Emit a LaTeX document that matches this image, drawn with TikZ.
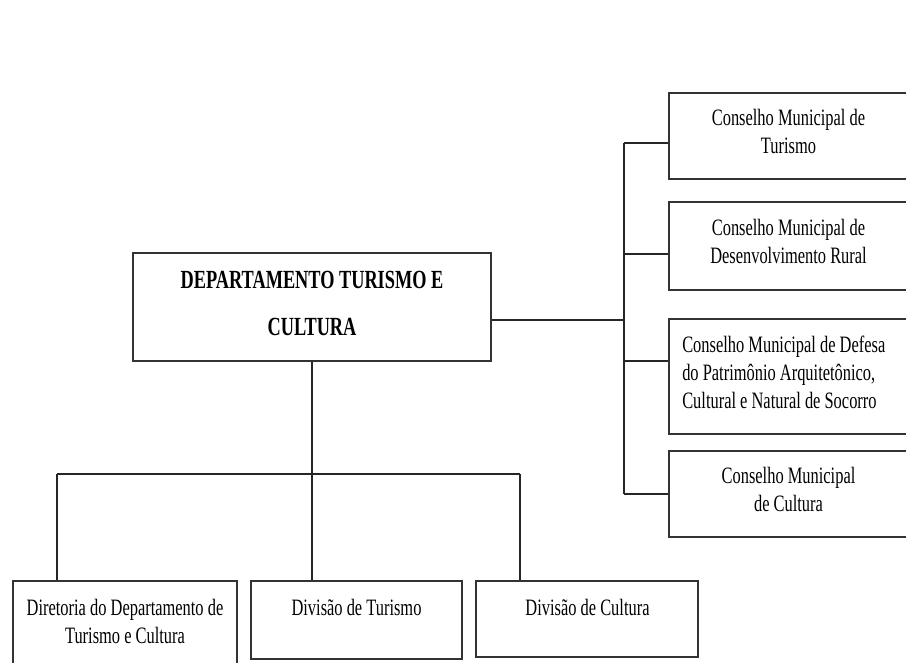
\documentclass[tikz,border=0pt]{standalone}
\usepackage{fontspec}
\newfontfamily\orgfont{Liberation Serif}[FakeStretch=0.70]
\usetikzlibrary{fit,calc}

\begin{document}
\begin{tikzpicture}[x=0.75pt,y=-0.75pt,
  box/.style={draw=black!80, line width=1.5pt, inner sep=0pt},
  wire/.style={draw=black!85, line width=1.1pt},
  lbl/.style={inner sep=0pt, align=center, font=\orgfont\fontsize{17.6}{21}\selectfont},
  head/.style={inner sep=0pt, align=center, font=\orgfont\bfseries\fontsize{19.6}{35.25}\selectfont}]

\useasboundingbox (0,0) rectangle (906,662);

% department
\node[box, fit={(133,253) (491,361)}] (main) {};
\node[head] (mainT) at (312,303.5) {DEPARTAMENTO TURISMO E\\CULTURA};

% councils
\node[box, fit={(669,93) (920,179)}] (c1) {};
\node[box, fit={(669,202) (920,290)}] (c2) {};
\node[box, fit={(669,319) (920,434)}] (c3) {};
\node[box, fit={(669,451) (920,537)}] (c4) {};
\node[lbl] (c1T) at (788.5,131) {Conselho Municipal de\\Turismo};
\node[lbl] (c2T) at (788.5,241) {Conselho Municipal de\\Desenvolvimento Rural};
\node[lbl, align=left, anchor=west] (c3T) at (682,372.5) {Conselho Municipal de Defesa\\do Patrimônio Arquitetônico,\\Cultural e Natural de Socorro};
\node[lbl] (c4T) at (788.5,489) {Conselho Municipal\\de Cultura};

% divisions
\node[box, fit={(13,581) (237,675)}] (dA) {};
\node[box, fit={(251,581) (462,659)}] (dB) {};
\node[box, fit={(476,581) (698,657)}] (dC) {};
\node[lbl] (dAT) at (125,621) {Diretoria do Departamento de\\Turismo e Cultura};
\node[lbl] (dBT) at (356.5,607) {Divisão de Turismo};
\node[lbl] (dCT) at (587.5,607) {Divisão de Cultura};

% right-hand bus
\coordinate (mOut) at ($(main.south east)+(0,-42)$);
\coordinate (busTop) at (624,143);
\coordinate (b2) at (624,254);
\coordinate (b3) at (624,361);
\coordinate (busBot) at (624,494);
\draw[wire] (mOut) -- (mOut -| busTop);
\draw[wire] (busTop) -- (busBot);
\draw[wire] (busTop) -- (busTop -| c1.west);
\draw[wire] (b2) -- (b2 -| c2.west);
\draw[wire] (b3) -- (b3 -| c3.west);
\draw[wire] (busBot) -- (busBot -| c4.west);

% lower bus
\coordinate (busL) at (57,474);
\coordinate (busR) at (520,474);
\draw[wire] (main.south) -- (main.south |- dB.north);
\draw[wire] (busL) -- (busR);
\draw[wire] (busL) -- (busL |- dA.north);
\draw[wire] (busR) -- (busR |- dC.north);
\end{tikzpicture}
\end{document}
